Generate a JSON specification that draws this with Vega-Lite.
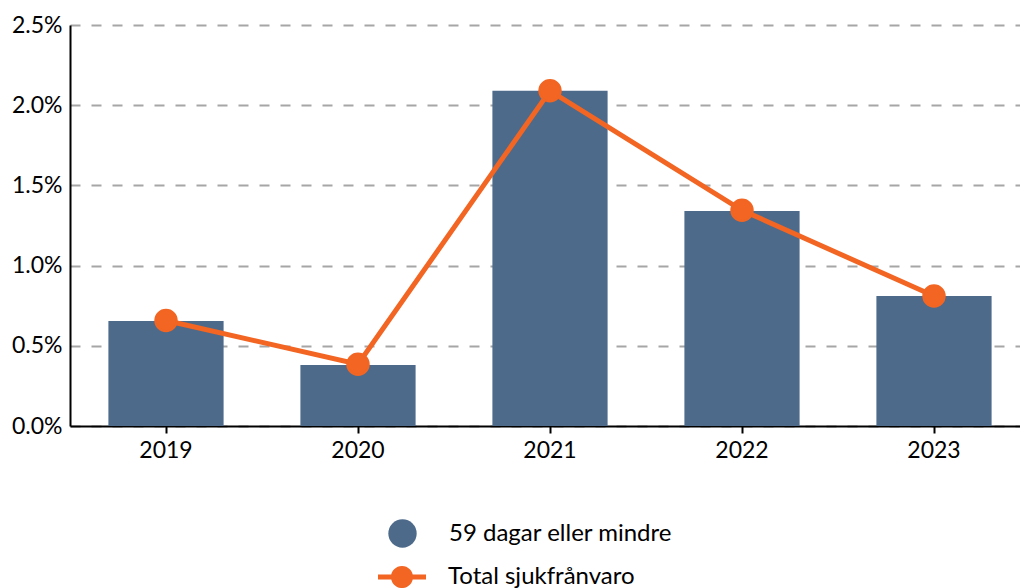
{
  "$schema": "https://vega.github.io/schema/vega-lite/v6.json",
  "autosize": "none",
  "width": 950,
  "height": 401,
  "padding": {"left": 70, "top": 25, "right": 0, "bottom": 162},
  "background": "white",
  "config": {
    "view": {"stroke": null},
    "font": "Lato",
    "axis": {"labelFont": "Lato", "labelFontSize": 23, "labelColor": "#000"},
    "legend": {"labelFont": "Lato", "labelFontSize": 24, "labelColor": "#000", "labelLimit": 500}
  },
  "data": {
    "values": [
      {"year": "2019", "bar": 0.00655, "total": 0.00658},
      {"year": "2020", "bar": 0.0038, "total": 0.00385},
      {"year": "2021", "bar": 0.0209, "total": 0.0209},
      {"year": "2022", "bar": 0.0134, "total": 0.01345},
      {"year": "2023", "bar": 0.0081, "total": 0.0081}
    ]
  },
  "encoding": {
    "x": {
      "field": "year", "type": "nominal",
      "scale": {"paddingInner": 0.4, "paddingOuter": 0.2, "range": [0, 960]},
      "axis": {"title": null, "labelAngle": 0, "domainColor": "#000", "domainWidth": 2, "tickColor": "#000", "tickWidth": 2, "tickSize": 7, "labelPadding": 6}
    }
  },
  "layer": [
    {
      "transform": [{"calculate": "'59 dagar eller mindre'", "as": "s1"}],
      "mark": {"type": "bar"},
      "encoding": {
        "y": {
          "field": "bar", "type": "quantitative",
          "scale": {"domain": [0, 0.025], "nice": false},
          "axis": {"title": null, "format": ".1%", "values": [0, 0.005, 0.01, 0.015, 0.02, 0.025], "labelOverlap": false, "ticks": false, "labelPadding": 8, "domainColor": "#000", "domainWidth": 2, "gridColor": "#a6a6a6", "gridWidth": 2, "gridDash": [10, 11]}
        },
        "color": {
          "field": "s1", "type": "nominal",
          "scale": {"range": ["#4d6a8a"]},
          "legend": {"title": null, "orient": "none", "legendX": 318, "legendY": 494, "symbolType": "circle", "symbolSize": 804, "symbolStrokeWidth": 0, "labelOffset": 32}
        }
      }
    },
    {
      "transform": [{"calculate": "'Total sjukfrånvaro'", "as": "s2"}],
      "mark": {"type": "line", "strokeWidth": 5, "point": {"filled": true, "size": 460, "color": "#f26522"}},
      "encoding": {
        "y": {
          "field": "total", "type": "quantitative",
          "scale": {"domain": [0, 0.025], "nice": false},
          "axis": {"title": null, "format": ".1%", "values": [0, 0.005, 0.01, 0.015, 0.02, 0.025], "labelOverlap": false, "ticks": false, "labelPadding": 8, "domainColor": "#000", "domainWidth": 2, "gridColor": "#a6a6a6", "gridWidth": 2, "gridDash": [10, 11]}
        },
        "stroke": {
          "field": "s2", "type": "nominal",
          "scale": {"range": ["#f26522"]},
          "legend": {
            "title": null, "orient": "none", "legendX": 308, "legendY": 528,
            "symbolType": "M-1,-0.1H1V0.1H-1Z M0,-0.46A0.46,0.46 0 1,1 0,0.46A0.46,0.46 0 1,1 0,-0.46Z",
            "symbolSize": 2304, "symbolStrokeWidth": 0, "symbolFillColor": "#f26522", "labelOffset": 22,
            "encode": {"symbols": {"update": {"fill": {"value": "#f26522"}, "strokeWidth": {"value": 0}}}}
          }
        }
      }
    }
  ]
}
